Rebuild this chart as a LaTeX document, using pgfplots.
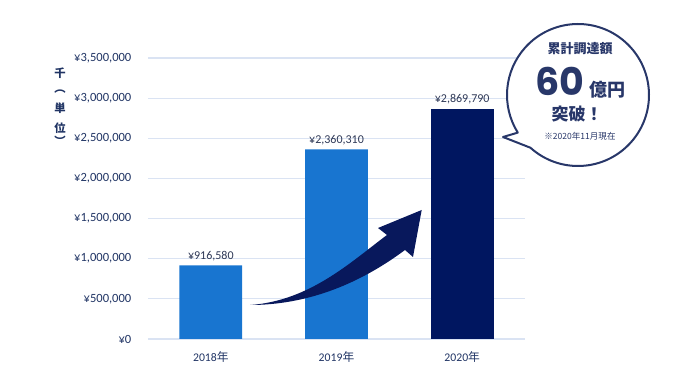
\documentclass[border=0pt]{standalone}
\usepackage{pgfplots}
\pgfplotsset{compat=1.18}
\usetikzlibrary{calc}
\usepackage{fontspec}
\setmainfont{Carlito}
\newfontfamily\jp{Noto Sans CJK JP}
\newfontfamily\pop{Poppins}
\definecolor{barblue}{RGB}{24,117,208}
\definecolor{bardark}{RGB}{0,22,96}
\definecolor{gridc}{RGB}{218,227,243}
\definecolor{navy}{RGB}{32,52,100}
\definecolor{valc}{RGB}{45,55,85}
\definecolor{bub}{RGB}{40,55,105}
\definecolor{arrowc}{RGB}{8,24,92}
\begin{document}
\begin{tikzpicture}[x=0.75pt,y=0.75pt]
\path[use as bounding box] (0,0) rectangle (690,389);
\begin{axis}[
  at={(111pt,37.5pt)}, anchor=south west,
  width=282.75pt, height=210.75pt, scale only axis,
  xmin=-0.5, xmax=2.5, ymin=0, ymax=3500000,
  ybar,
  xtick={0,1,2},
  xticklabels={2018{\jp 年},2019{\jp 年},2020{\jp 年}},
  ytick={0,500000,1000000,1500000,2000000,2500000,3000000,3500000},
  yticklabels={{¥0},{¥500,000},{¥1,000,000},{¥1,500,000},{¥2,000,000},{¥2,500,000},{¥3,000,000},{¥3,500,000}},
  scaled y ticks=false,
  axis line style={draw=none},
  major tick length=0pt,
  ymajorgrids,
  grid style={gridc, line width=0.8pt},
  xticklabel style={font=\fontsize{8.8}{10}\selectfont, text=navy, yshift=-6pt},
  yticklabel style={font=\fontsize{9.4}{10}\selectfont, text=navy, xshift=-9pt},
  nodes near coords,
  point meta=explicit symbolic,
  nodes near coords style={font=\fontsize{9}{10}\selectfont, text=valc},
  clip=false,
]
\addplot[ybar, bar width=0.5, bar shift=0pt, fill=barblue, draw=none]
  coordinates {(0,916580) [{¥916,580}] (1,2360310) [{¥2,360,310}]};
\addplot[ybar, bar width=0.5, bar shift=0pt, fill=bardark, draw=none]
  coordinates {(2,2869790) [{¥2,869,790}]};
\end{axis}
% arrow
\fill[arrowc] (250,84) .. controls (310,88) and (352,128) .. (387,154)
  -- (378,161) -- (421.7,179) -- (413,132) -- (405,139)
  .. controls (362,107) and (310,84) .. (250,84) -- cycle;
% y label
\begin{scope}[every node/.style={font=\jp\bfseries\fontsize{8.5}{10}\selectfont, text=navy, inner sep=0pt}]
\node at (60,316) {千};
\node at (60,297) {︵};
\node at (60,281) {単};
\node at (60,261) {位};
\node at (60,248) {︶};
\end{scope}
% bubble
\filldraw[fill=white, draw=bub, line width=1.5pt, line join=round]
  (503,252) -- ($(578,294)+(228:71)$) arc[start angle=228, end angle=572, radius=71] -- cycle;
\node[font=\jp\bfseries\fontsize{9.75}{11}\selectfont, text=bub] at (580,340) {累計調達額};
\node[font=\pop\bfseries\fontsize{28.5}{30}\selectfont, text=bub, inner sep=0pt] at (560,308) {60};
\node[font=\jp\bfseries\fontsize{13.5}{15}\selectfont, text=bub] at (607,299) {億円};
\node[font=\jp\bfseries\fontsize{12.75}{14}\selectfont, text=bub, inner sep=0pt] at (577,275) {突破！};
\node[font=\jp\fontsize{6.4}{7}\selectfont, text=bub] at (580,252.5) {※2020年11月現在};
\end{tikzpicture}
\end{document}
